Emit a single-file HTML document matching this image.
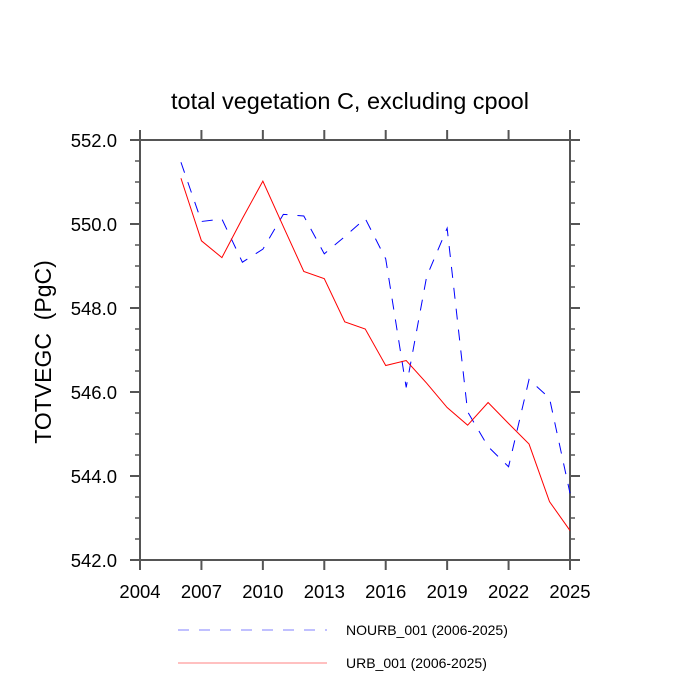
<!DOCTYPE html>
<html><head><meta charset="utf-8"><style>
body{margin:0;background:#fff}
svg{display:block;font-family:"Liberation Sans",sans-serif}
</style></head><body>
<svg id="c" width="700" height="700" viewBox="0 0 700 700">
<text x="350" y="109" text-anchor="middle" font-size="23.5">total vegetation C, excluding cpool</text>
<text transform="translate(51,352) rotate(-90)" text-anchor="middle" font-size="23">TOTVEGC&#160;&#160;(PgC)</text>
<g id="axes"></g>
<g id="series"></g>
<g>
<line x1="178" y1="630" x2="327" y2="630" stroke="#8080ff" stroke-width="1" stroke-dasharray="11,10"/>
<text x="346" y="635" font-size="14">NOURB_001 (2006-2025)</text>
<line x1="178" y1="663" x2="327" y2="663" stroke="#ff8080" stroke-width="1"/>
<text x="346" y="668" font-size="14">URB_001 (2006-2025)</text>
</g>
</svg>
<script>
const years=[2006,2007,2008,2009,2010,2011,2012,2013,2014,2015,2016,2017,2018,2019,2020,2021,2022,2023,2024,2025];
const nourb=[551.47,550.06,550.12,549.09,549.40,550.23,550.19,549.29,549.70,550.13,549.17,546.11,548.75,549.90,545.53,544.70,544.22,546.30,545.85,543.59];
const urb=[551.09,549.60,549.20,550.13,551.02,549.94,548.87,548.70,547.67,547.50,546.63,546.75,546.21,545.63,545.21,545.75,545.25,544.76,543.39,542.70];
const xTicks=[2004,2007,2010,2013,2016,2019,2022,2025];
const yTicks=[542,544,546,548,550,552];
const yTickLabels=["542.0","544.0","546.0","548.0","550.0","552.0"];
const X0=140,X1=570,Y0=140,Y1=560;
const xs=v=>X0+(v-2004)/(2025-2004)*(X1-X0);
const ys=v=>Y1-(v-542)/(552-542)*(Y1-Y0);
const NS="http://www.w3.org/2000/svg";
function mk(tag,attrs,parent){const e=document.createElementNS(NS,tag);for(const k in attrs)e.setAttribute(k,attrs[k]);parent.appendChild(e);return e;}
const ax=document.getElementById('axes');
const frame=mk('rect',{x:X0,y:Y0,width:X1-X0,height:Y1-Y0,fill:'none',stroke:'#555','stroke-width':2},ax);


xTicks.forEach(t=>{
  const x=xs(t);
  mk('line',{x1:x,y1:Y1,x2:x,y2:Y1+10,stroke:'#555','stroke-width':2},ax);
  mk('line',{x1:x,y1:Y0,x2:x,y2:Y0-10,stroke:'#555','stroke-width':2},ax);
  const tx=mk('text',{x:x,y:Y1+38,'text-anchor':'middle','font-size':18.5},ax);
  tx.textContent=t;
  
  
});
for(let v=542;v<=552.001;v+=0.5){
  const y=ys(v),major=Math.abs(v/2-Math.round(v/2))<1e-6,L=major?10:5;
  mk('line',{x1:X0,y1:y,x2:X0-L,y2:y,stroke:'#555','stroke-width':major?2:1.5},ax);
  mk('line',{x1:X1,y1:y,x2:X1+L,y2:y,stroke:'#555','stroke-width':major?2:1.5},ax);
}
yTicks.forEach((t,i)=>{
  const tx=mk('text',{x:X0-23,y:ys(t)+7,'text-anchor':'end','font-size':18.5},ax);
  tx.textContent=yTickLabels[i];
  
  
});
const sg=document.getElementById('series');
const pn=mk('polyline',{points:years.map((y,i)=>xs(y)+','+ys(nourb[i])).join(' '),fill:'none',stroke:'#0000ff','stroke-width':1,'stroke-dasharray':'11,10'},sg);


const pu=mk('polyline',{points:years.map((y,i)=>xs(y)+','+ys(urb[i])).join(' '),fill:'none',stroke:'#ff0000','stroke-width':1},sg);


</script>
</body></html>
